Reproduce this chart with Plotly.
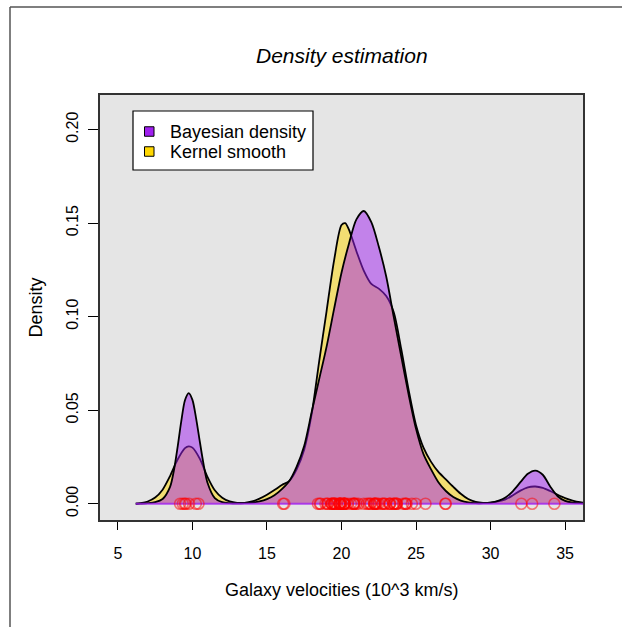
import plotly.graph_objects as go

# ---------------- data ----------------
galaxy_velocities = [
    9.172, 9.350, 9.483, 9.558, 9.775, 10.227, 10.406, 16.084, 16.170, 18.419,
    18.552, 18.600, 18.927, 19.052, 19.070, 19.330, 19.343, 19.349, 19.440, 19.473,
    19.529, 19.541, 19.547, 19.663, 19.846, 19.856, 19.863, 19.914, 19.918, 19.973,
    19.989, 20.166, 20.175, 20.179, 20.196, 20.215, 20.221, 20.415, 20.629, 20.795,
    20.821, 20.846, 20.875, 20.986, 21.137, 21.492, 21.701, 21.814, 21.921, 21.960,
    22.185, 22.209, 22.242, 22.249, 22.314, 22.374, 22.495, 22.746, 22.747, 22.888,
    22.914, 23.206, 23.241, 23.263, 23.484, 23.538, 23.542, 23.666, 23.706, 23.711,
    24.129, 24.285, 24.289, 24.366, 24.717, 24.990, 25.633, 26.960, 26.995, 32.065,
    32.789, 34.279,
]

kernel_x = [6.2, 6.5, 7.0, 7.5, 8.0, 8.5, 9.0, 9.5, 9.75, 10.0, 10.5, 11.0, 11.5,
            12.0, 12.5, 13.0, 13.5, 14.0, 14.5, 15.0, 15.5, 16.0, 16.5, 17.0, 17.5,
            18.0, 18.5, 19.0, 19.5, 20.0, 20.25, 20.5, 21.0, 21.5, 22.0, 22.5, 23.0,
            23.5, 24.0, 24.5, 25.0, 25.5, 26.0, 26.5, 27.0, 27.5, 28.0, 28.5, 29.0,
            29.5, 30.0, 30.5, 31.0, 31.5, 32.0, 32.5, 33.0, 33.5, 34.0, 34.5, 35.0,
            35.5, 36.0, 36.5, 37.0, 37.3]
kernel_y = [0.0000, 0.0003, 0.0012, 0.0033, 0.0075, 0.0148, 0.0235, 0.0297, 0.0307,
            0.0300, 0.0240, 0.0145, 0.0072, 0.0032, 0.0012, 0.0005, 0.0005, 0.0012,
            0.0027, 0.0048, 0.0073, 0.0100, 0.0122, 0.0185, 0.0290, 0.0480, 0.0760,
            0.1030, 0.1300, 0.1490, 0.1500, 0.1465, 0.1350, 0.1245, 0.1175, 0.1150,
            0.1110, 0.1025, 0.0830, 0.0610, 0.0420, 0.0300, 0.0225, 0.0170, 0.0130,
            0.0090, 0.0053, 0.0025, 0.0010, 0.0005, 0.0006, 0.0012, 0.0023, 0.0045,
            0.0070, 0.0088, 0.0092, 0.0085, 0.0068, 0.0048, 0.0030, 0.0017, 0.0008,
            0.0003, 0.0001, 0.0000]

bayes_x = [6.2, 6.5, 7.0, 7.5, 8.0, 8.5, 8.75, 9.0, 9.25, 9.5, 9.75, 10.0, 10.25,
           10.5, 10.75, 11.0, 11.5, 12.0, 12.5, 13.0, 13.5, 14.0, 14.5, 15.0, 15.5,
           16.0, 16.5, 17.0, 17.5, 18.0, 18.5, 19.0, 19.5, 20.0, 20.5, 21.0, 21.5,
           22.0, 22.5, 23.0, 23.5, 24.0, 24.5, 25.0, 25.5, 26.0, 26.5, 27.0, 27.5,
           28.0, 28.5, 29.0, 29.5, 30.0, 30.5, 31.0, 31.5, 32.0, 32.5, 33.0, 33.5,
           34.0, 34.5, 35.0, 35.5, 36.0, 36.5, 37.0]
bayes_y = [0.0000, 0.0001, 0.0003, 0.0008, 0.0025, 0.0090, 0.0175, 0.0300, 0.0440,
           0.0553, 0.0591, 0.0555, 0.0455, 0.0330, 0.0210, 0.0115, 0.0030, 0.0008,
           0.0003, 0.0002, 0.0003, 0.0006, 0.0013, 0.0025, 0.0045, 0.0078, 0.0122,
           0.0200, 0.0310, 0.0490, 0.0665, 0.0840, 0.1040, 0.1235, 0.1390, 0.1520,
           0.1565, 0.1505, 0.1375, 0.1215, 0.1000, 0.0790, 0.0585, 0.0400, 0.0265,
           0.0185, 0.0115, 0.0068, 0.0036, 0.0017, 0.0007, 0.0003, 0.0003, 0.0006,
           0.0015, 0.0033, 0.0068, 0.0115, 0.0160, 0.0177, 0.0155, 0.0092, 0.0040,
           0.0015, 0.0006, 0.0003, 0.0001, 0.0000]

x_ticks = [5, 10, 15, 20, 25, 30, 35]
y_ticks = [0.00, 0.05, 0.10, 0.15, 0.20]
legend_labels = ["Bayesian density", "Kernel smooth"]

# ---------------- layout geometry ----------------
W, H = 622, 627
L, R, T, B = 100, 583, 95, 520   # plot area in pixels


def px(xp):
    return (xp - L) / (R - L)


def py(yp):
    return (B - yp) / (B - T)


FONT = "Liberation Sans, Arial, Helvetica, sans-serif"

fig = go.Figure()

fig.add_trace(go.Scatter(
    x=kernel_x, y=kernel_y, mode="lines", fill="tozeroy",
    fillcolor="rgba(255,215,0,0.5)",
    line=dict(color="black", width=1.8, shape="spline", smoothing=0.8),
    showlegend=False, hoverinfo="skip"))

fig.add_trace(go.Scatter(
    x=bayes_x, y=bayes_y, mode="lines", fill="tozeroy",
    fillcolor="rgba(160,32,240,0.5)",
    line=dict(color="black", width=1.8, shape="spline", smoothing=0.8),
    showlegend=False, hoverinfo="skip"))

# purple baseline
fig.add_trace(go.Scatter(
    x=[bayes_x[0], bayes_x[-1]], y=[0, 0], mode="lines",
    line=dict(color="rgba(160,32,240,0.8)", width=2),
    showlegend=False, hoverinfo="skip"))

# data points
fig.add_trace(go.Scatter(
    x=galaxy_velocities, y=[0] * len(galaxy_velocities), mode="markers",
    marker=dict(symbol="circle-open", size=11,
                color="rgba(255,0,0,0.5)", line=dict(width=1.6)),
    showlegend=False, hoverinfo="skip", cliponaxis=True))

shapes = []
annotations = []

# outer frame (left and top)
shapes.append(dict(type="line", xref="paper", yref="paper",
                   x0=px(10), x1=px(10), y0=py(7), y1=py(H + 5),
                   line=dict(color="#555555", width=1.5)))
shapes.append(dict(type="line", xref="paper", yref="paper",
                   x0=px(10), x1=px(W + 5), y0=py(7), y1=py(7),
                   line=dict(color="#555555", width=1.5)))

# legend box
shapes.append(dict(type="rect", xref="paper", yref="paper",
                   x0=px(133), x1=px(313), y0=py(170), y1=py(111),
                   fillcolor="white", line=dict(color="black", width=1.2)))
legend_colors = ["#A020F0", "#FFD700"]
legend_rows = [131.5, 151.5]
for lab, col, yr in zip(legend_labels, legend_colors, legend_rows):
    shapes.append(dict(type="rect", xref="paper", yref="paper",
                       x0=px(144.5), x1=px(154), y0=py(yr + 4.75), y1=py(yr - 4.75),
                       fillcolor=col, line=dict(color="black", width=1)))
    annotations.append(dict(text=lab, xref="paper", yref="paper",
                            x=px(168), y=py(yr), xanchor="left", yanchor="middle",
                            showarrow=False, font=dict(size=18, color="black", family=FONT)))

# title and axis titles
annotations.append(dict(text="<i>Density estimation</i>", xref="paper", yref="paper",
                        x=0.5, y=py(56), xanchor="center", yanchor="middle",
                        showarrow=False, font=dict(size=21, color="black", family=FONT)))
annotations.append(dict(text="Galaxy velocities (10^3 km/s)", xref="paper", yref="paper",
                        x=0.5, y=py(590), xanchor="center", yanchor="middle",
                        showarrow=False, font=dict(size=18, color="black", family=FONT)))
annotations.append(dict(text="Density", xref="paper", yref="paper",
                        x=px(35), y=0.5, xanchor="center", yanchor="middle", textangle=-90,
                        showarrow=False, font=dict(size=18, color="black", family=FONT)))

fig.update_layout(
    width=W, height=H,
    margin=dict(l=L, r=W - R, t=T, b=H - B, pad=0),
    paper_bgcolor="white", plot_bgcolor="#E5E5E5",
    shapes=shapes, annotations=annotations,
    font=dict(family=FONT, size=16, color="black"),
)
fig.update_xaxes(range=[3.8, 36.2], tickvals=x_ticks, ticktext=[str(v) for v in x_ticks],
                 ticks="outside", ticklen=8, tickwidth=1, tickcolor="black",
                 showline=True, mirror=True, linecolor="#333333", linewidth=1.5,
                 showgrid=False, zeroline=False, ticklabelstandoff=10,
                 tickfont=dict(size=16, family=FONT, color="black"))
fig.update_yaxes(range=[-0.0087, 0.2185], tickvals=y_ticks,
                 ticktext=["%.2f" % v for v in y_ticks], tickangle=-90,
                 ticks="outside", ticklen=10, tickwidth=1, tickcolor="black",
                 showline=True, mirror=True, linecolor="#333333", linewidth=1.5,
                 showgrid=False, zeroline=False, ticklabelstandoff=4,
                 tickfont=dict(size=16, family=FONT, color="black"))

fig.write_html("out.html")
